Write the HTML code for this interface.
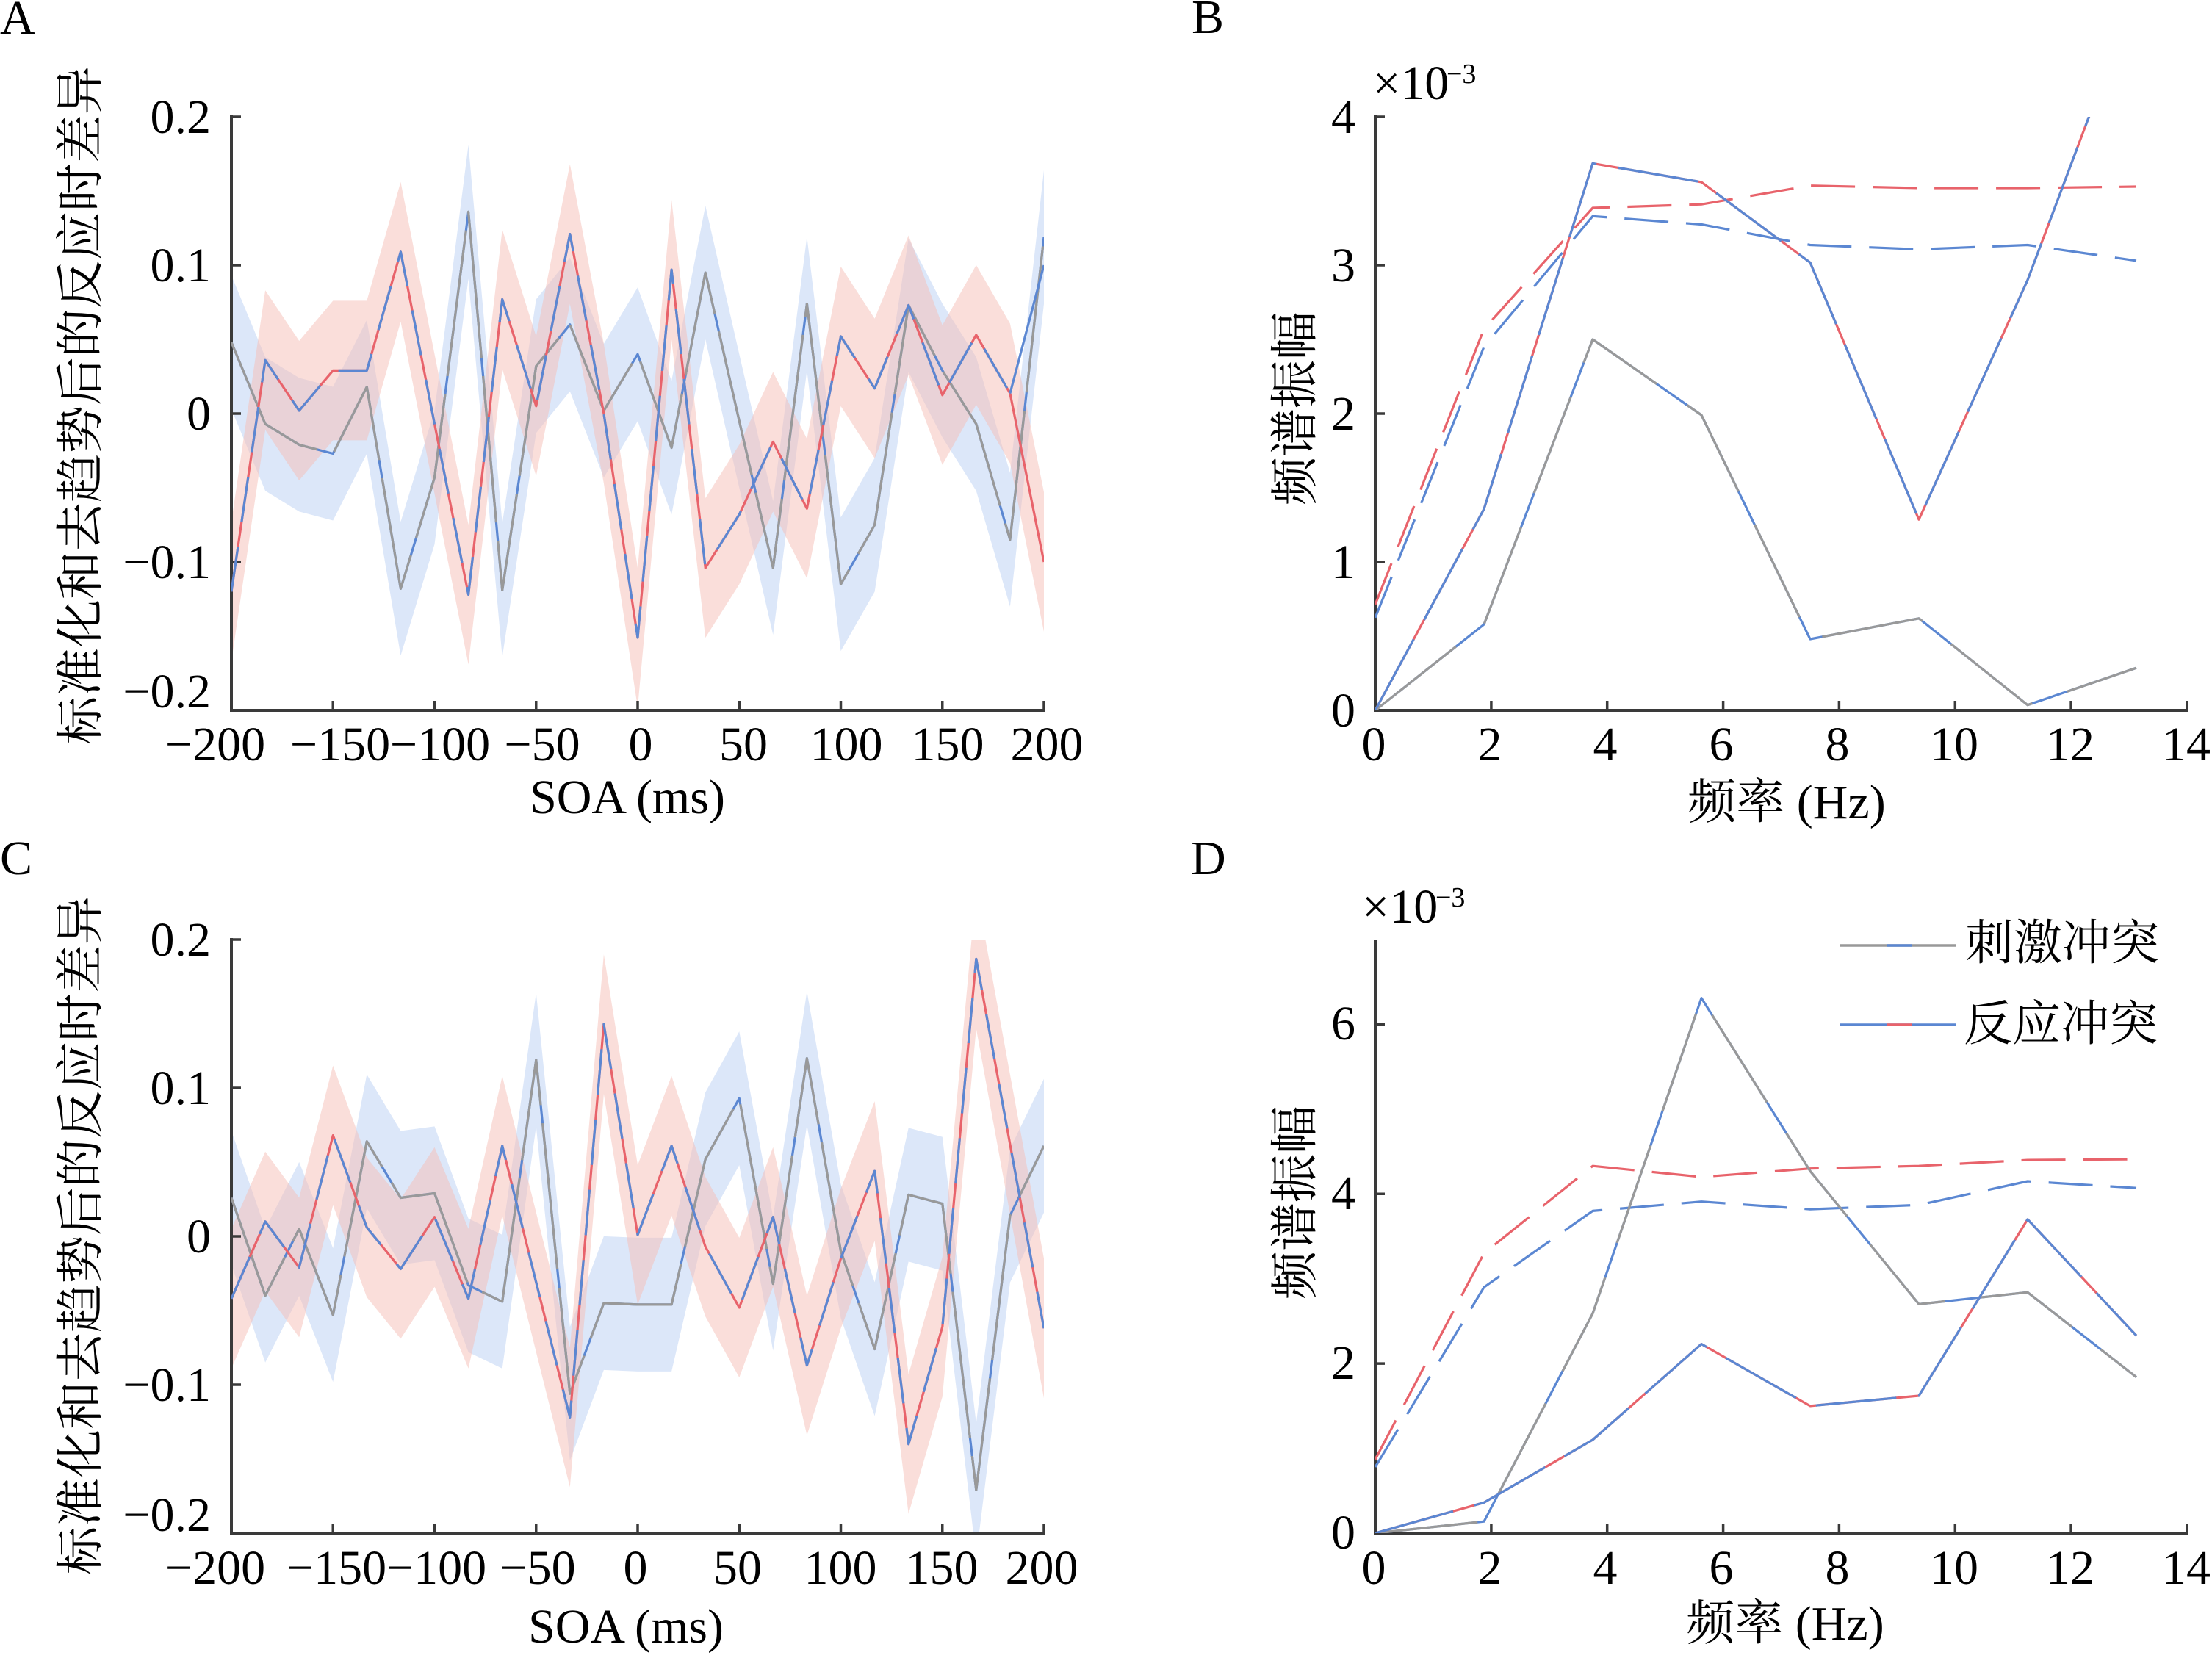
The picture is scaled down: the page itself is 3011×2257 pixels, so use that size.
<!DOCTYPE html>
<html><head><meta charset="utf-8"><style>
html,body{margin:0;padding:0;background:#fff;}
svg{display:block;}
.t{font-family:"Liberation Serif","Noto Serif CJK SC",serif;font-size:66px;fill:#000;}
.c{font-family:"Noto Serif CJK SC","Noto Sans CJK SC",serif;font-size:66px;fill:#000;}
.ax{stroke:#3a3a3a;stroke-width:4;fill:none;}
.tk{stroke:#3a3a3a;stroke-width:3.5;fill:none;}
.ln{fill:none;stroke-width:3.2;stroke-linejoin:round;}
</style></head><body>
<svg width="3011" height="2257" viewBox="0 0 3011 2257" xmlns="http://www.w3.org/2000/svg">
<defs>
<clipPath id="cA"><rect x="315" y="159" width="1106" height="808"/></clipPath>
<clipPath id="cC"><rect x="315" y="1279" width="1106" height="808"/></clipPath>
<clipPath id="cB"><rect x="1872" y="159" width="1105" height="808"/></clipPath>
<clipPath id="cD"><rect x="1872" y="1279" width="1105" height="808"/></clipPath>
</defs>
<rect width="3011" height="2257" fill="#fff"/>

<!-- ========== PANEL A ========== -->
<g clip-path="url(#cA)">
<polygon fill="rgb(220,231,249)" points="315,375 361.1,486.1 407.2,514.4 453.3,526.5 499.3,435.6 545.4,710.4 591.5,558.9 637.6,197.3 683.7,712.4 729.8,407.4 775.8,350.8 821.9,468 868,391.2 914.1,518.5 960.2,280.1 1006.3,482.1 1052.3,682.1 1098.4,322.5 1144.5,704.3 1190.6,623.5 1236.7,324.5 1282.8,413.4 1328.8,486.1 1374.9,643.7 1421,231.6 1421,413.6 1374.9,825.7 1328.8,668.1 1282.8,595.4 1236.7,506.5 1190.6,805.5 1144.5,886.3 1098.4,504.5 1052.3,864.1 1006.3,664.1 960.2,462.1 914.1,700.5 868,573.2 821.9,650 775.8,532.8 729.8,589.4 683.7,894.4 637.6,379.3 591.5,740.9 545.4,892.4 499.3,617.6 453.3,708.5 407.2,696.4 361.1,668.1 315,557"/>
<polygon fill="rgb(245,190,182)" fill-opacity="0.5" points="315,710.4 361.1,395.3 407.2,464 453.3,409.4 499.3,409.4 545.4,247.8 591.5,482.1 637.6,714.4 683.7,312.5 729.8,457.9 775.8,223.6 821.9,468 868,773 914.1,272.1 960.2,678.1 1006.3,605.4 1052.3,506.4 1098.4,597.3 1144.5,362.9 1190.6,433.7 1236.7,320.5 1282.8,442.8 1328.8,360.9 1374.9,440.5 1421,670 1421,860 1374.9,630.5 1328.8,550.9 1282.8,632.8 1236.7,510.5 1190.6,623.7 1144.5,552.9 1098.4,787.3 1052.3,696.4 1006.3,795.4 960.2,868.1 914.1,462.1 868,963 821.9,658 775.8,413.6 729.8,647.9 683.7,502.5 637.6,904.4 591.5,672.1 545.4,437.8 499.3,599.4 453.3,599.4 407.2,654 361.1,585.3 315,900.4"/>
</g>
<path class="ax" d="M315,157 V967 H1423"/>
<path class="tk" d="M315,159 H328 M315,361 H328 M315,563 H328 M315,765 H328 M315,967 H328 M453.25,967 V954 M591.5,967 V954 M729.75,967 V954 M868,967 V954 M1006.25,967 V954 M1144.5,967 V954 M1282.75,967 V954 M1421,967 V954"/>
<g clip-path="url(#cA)">
<polyline class="ln" stroke="#5b87d2" points="315,466 361.1,577.1 407.2,605.4 453.3,617.5 499.3,526.6 545.4,801.4 591.5,649.9 637.6,288.3 683.7,803.4 729.8,498.4 775.8,441.8 821.9,559 868,482.2 914.1,609.5 960.2,371.1 1006.3,573.1 1052.3,773.1 1098.4,413.5 1144.5,795.3 1190.6,714.5 1236.7,415.5 1282.8,504.4 1328.8,577.1 1374.9,734.7 1421,322.6"/>
<polyline class="ln" stroke="#999999" stroke-dasharray="200 25" points="315,466 361.1,577.1 407.2,605.4 453.3,617.5 499.3,526.6 545.4,801.4 591.5,649.9 637.6,288.3 683.7,803.4 729.8,498.4 775.8,441.8 821.9,559 868,482.2 914.1,609.5 960.2,371.1 1006.3,573.1 1052.3,773.1 1098.4,413.5 1144.5,795.3 1190.6,714.5 1236.7,415.5 1282.8,504.4 1328.8,577.1 1374.9,734.7 1421,322.6"/>
<polyline class="ln" stroke="#e8636b" points="315,805.4 361.1,490.3 407.2,559 453.3,504.4 499.3,504.4 545.4,342.8 591.5,577.1 637.6,809.4 683.7,407.5 729.8,552.9 775.8,318.6 821.9,563 868,868 914.1,367.1 960.2,773.1 1006.3,700.4 1052.3,601.4 1098.4,692.3 1144.5,457.9 1190.6,528.7 1236.7,415.5 1282.8,537.8 1328.8,455.9 1374.9,535.5 1421,765"/>
<polyline class="ln" stroke="#5b87d2" stroke-dasharray="62 34" points="315,805.4 361.1,490.3 407.2,559 453.3,504.4 499.3,504.4 545.4,342.8 591.5,577.1 637.6,809.4 683.7,407.5 729.8,552.9 775.8,318.6 821.9,563 868,868 914.1,367.1 960.2,773.1 1006.3,700.4 1052.3,601.4 1098.4,692.3 1144.5,457.9 1190.6,528.7 1236.7,415.5 1282.8,537.8 1328.8,455.9 1374.9,535.5"/>
<polyline class="ln" stroke="#5b87d2" points="1374.9,535.5 1421,361"/>
</g>
<g class="t" text-anchor="end">
<text x="287" y="181">0.2</text>
<text x="287" y="383">0.1</text>
<text x="287" y="585">0</text>
<text x="287" y="787">−0.1</text>
<text x="287" y="963">−0.2</text>
</g>
<g class="t" text-anchor="middle">
<text x="293" y="1035">−200</text>
<text x="463" y="1035">−150</text>
<text x="599" y="1035">−100</text>
<text x="738" y="1035">−50</text>
<text x="872" y="1035">0</text>
<text x="1012" y="1035">50</text>
<text x="1152" y="1035">100</text>
<text x="1290" y="1035">150</text>
<text x="1425" y="1035">200</text>
<text x="854" y="1107">SOA (ms)</text>
</g>
<text class="c" text-anchor="middle" transform="translate(132,552) rotate(-90)">标准化和去趋势后的反应时差异</text>
<text class="t" x="0" y="46">A</text>

<!-- ========== PANEL C ========== -->
<g clip-path="url(#cC)">
<polygon fill="rgb(220,231,249)" points="315,1539.5 361.1,1672.8 407.2,1581.9 453.3,1699.1 499.3,1462.7 545.4,1539.5 591.5,1533.4 637.6,1658.7 683.7,1680.9 729.8,1351.6 775.8,1806.1 821.9,1682.9 868,1684.9 914.1,1684.9 960.2,1487 1006.3,1404.1 1052.3,1656.6 1098.4,1349.6 1144.5,1612.2 1190.6,1745.5 1236.7,1535.4 1282.8,1547.6 1328.8,1937.4 1374.9,1563.7 1421,1468.8 1421,1650.8 1374.9,1745.7 1328.8,2119.4 1282.8,1729.6 1236.7,1717.4 1190.6,1927.5 1144.5,1794.2 1098.4,1531.6 1052.3,1838.6 1006.3,1586.1 960.2,1669 914.1,1866.9 868,1866.9 821.9,1864.9 775.8,1988.1 729.8,1533.6 683.7,1862.9 637.6,1840.7 591.5,1715.4 545.4,1721.5 499.3,1644.7 453.3,1881.1 407.2,1763.9 361.1,1854.8 315,1721.5"/>
<polygon fill="rgb(245,190,182)" fill-opacity="0.5" points="315,1672.8 361.1,1567.8 407.2,1630.4 453.3,1450.6 499.3,1575.9 545.4,1632.4 591.5,1561.7 637.6,1672.8 683.7,1464.8 729.8,1650.6 775.8,1834.4 821.9,1299.1 868,1586 914.1,1464.8 960.2,1602.1 1006.3,1685 1052.3,1561.7 1098.4,1763.7 1144.5,1618.3 1190.6,1499.1 1236.7,1870.8 1282.8,1711.2 1328.8,1210.3 1374.9,1462.8 1421,1713.2 1421,1903.2 1374.9,1652.8 1328.8,1400.3 1282.8,1901.2 1236.7,2060.8 1190.6,1689.1 1144.5,1808.3 1098.4,1953.7 1052.3,1751.7 1006.3,1875 960.2,1792.1 914.1,1654.8 868,1776 821.9,1489.1 775.8,2024.4 729.8,1840.6 683.7,1654.8 637.6,1862.8 591.5,1751.7 545.4,1822.4 499.3,1765.9 453.3,1640.6 407.2,1820.4 361.1,1757.8 315,1862.8"/>
</g>
<path class="ax" d="M315,1277 V2087 H1423"/>
<path class="tk" d="M315,1279 H328 M315,1481 H328 M315,1683 H328 M315,1885 H328 M315,2087 H328 M453.25,2087 V2074 M591.5,2087 V2074 M729.75,2087 V2074 M868,2087 V2074 M1006.25,2087 V2074 M1144.5,2087 V2074 M1282.75,2087 V2074 M1421,2087 V2074"/>
<g clip-path="url(#cC)">
<polyline class="ln" stroke="#5b87d2" points="315,1630.5 361.1,1763.8 407.2,1672.9 453.3,1790.1 499.3,1553.7 545.4,1630.5 591.5,1624.4 637.6,1749.7 683.7,1771.9 729.8,1442.6 775.8,1897.1 821.9,1773.9 868,1775.9 914.1,1775.9 960.2,1578 1006.3,1495.1 1052.3,1747.6 1098.4,1440.6 1144.5,1703.2 1190.6,1836.5 1236.7,1626.4 1282.8,1638.6 1328.8,2028.4 1374.9,1654.7 1421,1559.8"/>
<polyline class="ln" stroke="#999999" stroke-dasharray="200 25" points="315,1630.5 361.1,1763.8 407.2,1672.9 453.3,1790.1 499.3,1553.7 545.4,1630.5 591.5,1624.4 637.6,1749.7 683.7,1771.9 729.8,1442.6 775.8,1897.1 821.9,1773.9 868,1775.9 914.1,1775.9 960.2,1578 1006.3,1495.1 1052.3,1747.6 1098.4,1440.6 1144.5,1703.2 1190.6,1836.5 1236.7,1626.4 1282.8,1638.6 1328.8,2028.4 1374.9,1654.7 1421,1559.8"/>
<polyline class="ln" stroke="#e8636b" points="315,1767.8 361.1,1662.8 407.2,1725.4 453.3,1545.6 499.3,1670.9 545.4,1727.4 591.5,1656.7 637.6,1767.8 683.7,1559.8 729.8,1745.6 775.8,1929.4 821.9,1394.1 868,1681 914.1,1559.8 960.2,1697.1 1006.3,1780 1052.3,1656.7 1098.4,1858.7 1144.5,1713.3 1190.6,1594.1 1236.7,1965.8 1282.8,1806.2 1328.8,1305.3 1374.9,1557.8 1421,1808.2"/>
<polyline class="ln" stroke="#5b87d2" stroke-dasharray="62 34" points="315,1767.8 361.1,1662.8 407.2,1725.4 453.3,1545.6 499.3,1670.9 545.4,1727.4 591.5,1656.7 637.6,1767.8 683.7,1559.8 729.8,1745.6 775.8,1929.4 821.9,1394.1 868,1681 914.1,1559.8 960.2,1697.1 1006.3,1780 1052.3,1656.7 1098.4,1858.7 1144.5,1713.3 1190.6,1594.1 1236.7,1965.8 1282.8,1806.2 1328.8,1305.3 1374.9,1557.8 1421,1808.2"/>
</g>
<g class="t" text-anchor="end">
<text x="287" y="1301">0.2</text>
<text x="287" y="1503">0.1</text>
<text x="287" y="1705">0</text>
<text x="287" y="1907">−0.1</text>
<text x="287" y="2084">−0.2</text>
</g>
<g class="t" text-anchor="middle">
<text x="293" y="2156">−200</text>
<text x="458" y="2156">−150</text>
<text x="594" y="2156">−100</text>
<text x="732" y="2156">−50</text>
<text x="865" y="2156">0</text>
<text x="1004" y="2156">50</text>
<text x="1144" y="2156">100</text>
<text x="1282" y="2156">150</text>
<text x="1418" y="2156">200</text>
<text x="852" y="2236">SOA (ms)</text>
</g>
<text class="c" text-anchor="middle" transform="translate(132,1682) rotate(-90)">标准化和去趋势后的反应时差异</text>
<text class="t" x="0" y="1190">C</text>

<!-- ========== PANEL B ========== -->
<path class="ax" d="M1872,157 V967 H2979"/>
<path class="tk" d="M1872,159 H1885 M1872,361 H1885 M1872,563 H1885 M1872,765 H1885 M2029.9,967 V954 M2187.7,967 V954 M2345.6,967 V954 M2503.4,967 V954 M2661.3,967 V954 M2819.1,967 V954 M2977,967 V954"/>
<g clip-path="url(#cB)">
<polyline class="ln" stroke="#e8636b" stroke-dasharray="60 24" points="1872,822.8 2020,447.9 2168,283 2316,278.2 2464,252.7 2612,256 2760,256 2908,254"/>
<polyline class="ln" stroke="#5b87d2" stroke-dasharray="60 24" points="1872,840.8 2020,472.1 2168,294.3 2316,305.5 2464,333.5 2612,339.4 2760,333.5 2908,354.9"/>
<polyline class="ln" stroke="#5b87d2" points="1872,967 2020,850 2168,462 2316,565 2464,870 2612,841.8 2760,959.7 2908,909.2"/>
<polyline class="ln" stroke="#999999" stroke-dasharray="140 50" points="1872,967 2020,850 2168,462 2316,565 2464,870 2612,841.8 2760,959.7 2908,909.2"/>
<polyline class="ln" stroke="#e8636b" points="1872,967 2020,692.9 2168,222.4 2316,247.9 2464,357.4 2612,707.2 2760,381.2 2908,-12.7"/>
<polyline class="ln" stroke="#5b87d2" stroke-dasharray="110 30" points="1872,967 2020,692.9 2168,222.4 2316,247.9 2464,357.4 2612,707.2 2760,381.2 2908,-12.7"/>
</g>
<g class="t" text-anchor="end">
<text x="1845" y="181">4</text>
<text x="1845" y="383">3</text>
<text x="1845" y="585">2</text>
<text x="1845" y="787">1</text>
<text x="1845" y="989">0</text>
</g>
<g class="t" text-anchor="middle">
<text x="1870" y="1035">0</text>
<text x="2028" y="1035">2</text>
<text x="2185" y="1035">4</text>
<text x="2343" y="1035">6</text>
<text x="2501" y="1035">8</text>
<text x="2660" y="1035">10</text>
<text x="2818" y="1035">12</text>
<text x="2976" y="1035">14</text>
<text x="2432" y="1114">频率 (Hz)</text>
</g>
<text class="t" x="1869" y="135">×10</text>
<text class="t" x="1969" y="113" style="font-size:38px">−3</text>
<text class="c" text-anchor="middle" transform="translate(1785,556) rotate(-90)">频谱振幅</text>
<text class="t" x="1622" y="45">B</text>

<!-- ========== PANEL D ========== -->
<path class="ax" d="M1872,1279 V2087 H2979"/>
<path class="tk" d="M1872,1394.4 H1885 M1872,1625.3 H1885 M1872,1856.1 H1885 M2029.9,2087 V2074 M2187.7,2087 V2074 M2345.6,2087 V2074 M2503.4,2087 V2074 M2661.3,2087 V2074 M2819.1,2087 V2074 M2977,2087 V2074"/>
<g clip-path="url(#cD)">
<polyline class="ln" stroke="#e8636b" stroke-dasharray="60 24" points="1872,1986.6 2020,1706.1 2168,1587.2 2316,1602.2 2464,1590.7 2612,1587.2 2760,1579.1 2908,1578"/>
<polyline class="ln" stroke="#5b87d2" stroke-dasharray="60 24" points="1872,1997 2020,1752.3 2168,1648.4 2316,1635.7 2464,1646.1 2612,1640.3 2760,1608 2908,1617.2"/>
<polyline class="ln" stroke="#5b87d2" points="1872,2087 2020,2071.2 2168,1788 2316,1358.6 2464,1594.1 2612,1775.3 2760,1759.2 2908,1874.6"/>
<polyline class="ln" stroke="#999999" stroke-dasharray="140 50" points="1872,2087 2020,2071.2 2168,1788 2316,1358.6 2464,1594.1 2612,1775.3 2760,1759.2 2908,1874.6"/>
<polyline class="ln" stroke="#e8636b" points="1872,2087 2020,2045.4 2168,1960 2316,1829.6 2464,1913.9 2612,1900 2760,1659.9 2908,1818.1"/>
<polyline class="ln" stroke="#5b87d2" stroke-dasharray="110 30" points="1872,2087 2020,2045.4 2168,1960 2316,1829.6 2464,1913.9 2612,1900 2760,1659.9 2908,1818.1"/>
</g>
<g class="t" text-anchor="end">
<text x="1845" y="1415">6</text>
<text x="1845" y="1646">4</text>
<text x="1845" y="1877">2</text>
<text x="1845" y="2108">0</text>
</g>
<g class="t" text-anchor="middle">
<text x="1870" y="2156">0</text>
<text x="2028" y="2156">2</text>
<text x="2185" y="2156">4</text>
<text x="2343" y="2156">6</text>
<text x="2501" y="2156">8</text>
<text x="2660" y="2156">10</text>
<text x="2818" y="2156">12</text>
<text x="2976" y="2156">14</text>
<text x="2430" y="2232">频率 (Hz)</text>
</g>
<text class="t" x="1854" y="1256">×10</text>
<text class="t" x="1954" y="1234" style="font-size:38px">−3</text>
<text class="c" text-anchor="middle" transform="translate(1785,1637) rotate(-90)">频谱振幅</text>
<text class="t" x="1621" y="1190">D</text>

<!-- legend -->
<line x1="2505" y1="1287" x2="2662" y2="1287" stroke="#999999" stroke-width="3.5"/>
<line x1="2568" y1="1287" x2="2603" y2="1287" stroke="#5b87d2" stroke-width="3.5"/>
<line x1="2505" y1="1395" x2="2662" y2="1395" stroke="#5b87d2" stroke-width="3.5"/>
<line x1="2568" y1="1395" x2="2603" y2="1395" stroke="#e8636b" stroke-width="3.5"/>
<text class="c" x="2675" y="1306">刺激冲突</text>
<text class="c" x="2673" y="1416">反应冲突</text>
</svg>
</body></html>
